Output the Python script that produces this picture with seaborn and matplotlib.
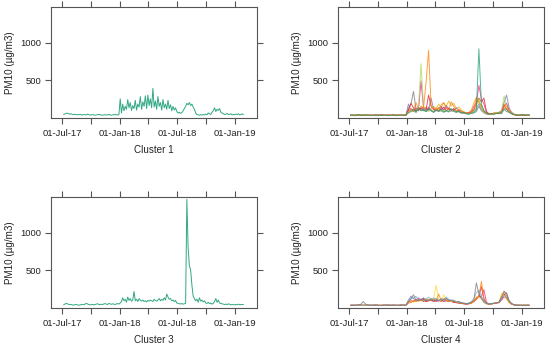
import numpy as np
import pandas as pd
import matplotlib
matplotlib.use("Agg")
import matplotlib.pyplot as plt
import matplotlib.dates as mdates
import seaborn as sns

# ---------------- data ----------------
start_fine = "2017-07-05"   # 4-day sampling for clusters 1 and 3
start_coarse = "2017-07-05" # 8-day sampling for clusters 2 and 4

cluster1 = [40,48,55,58,52,45,50,42,38,44,40,35,38,42,36,33,40,38,35,45,38,32,36,40,35,30,34,38,42,36,33,30,35,38,32,36,40,34,30,38,35,42,36,33,40,
            250,60,180,90,150,110,240,130,200,95,160,120,230,100,180,140,280,110,210,150,290,120,300,160,250,130,390,140,220,110,280,150,200,100,240,130,180,110,230,120,170,90,150,100,130,
            80,60,70,55,65,90,120,
            150,190,170,200,160,180,140,110,
            60,40,35,30,38,32,40,35,
            45,38,60,50,40,70,90,
            130,80,110,95,120,70,60,50,
            40,45,55,38,42,50,35,40,
            38,45,40,50,35,42,48,40]

cluster3 = [35,45,55,50,42,38,40,35,32,38,40,36,30,34,38,42,36,45,55,48,40,36,38,42,35,40,45,50,42,38,44,40,48,52,45,40,55,48,42,50,45,40,48,52,46,
            60,80,130,90,110,70,140,95,120,85,100,215,90,110,80,120,95,85,100,80,90,75,95,85,100,90,80,110,95,85,100,120,90,110,95,130,100,180,140,110,120,90,100,80,95,
            60,55,50,48,52,45,50,55,
            1450,800,560,500,300,150,120,
            90,110,70,130,85,100,75,90,
            60,55,70,50,60,45,55,
            80,120,70,100,60,55,50,45,
            40,45,38,50,42,35,40,38,
            35,40,38,45,36,40,42,38]

# cluster 2 sites
c2_site_a = [30,35,25,40,30,28,35,32,25,30,38,30,27,33,30,25,32,36,30,28,34,30,35,
             60,80,110,70,130,90,100,80,120,90,70,100,85,110,75,95,80,120,90,70,85,60,70,
             50,45,60,70,100,920,180,90,60,45,50,40,55,60,50,110,80,70,50,40,35,30,40,35,30,38]
c2_site_b = [25,30,35,28,32,40,30,26,30,35,28,32,30,26,34,30,28,32,35,30,27,33,38,
             70,90,100,60,150,720,140,90,80,110,70,95,130,80,100,90,75,110,85,95,70,80,60,
             55,50,65,80,150,250,120,70,50,40,45,55,70,60,90,290,130,80,60,45,35,40,32,38,30,35]
c2_site_c = [35,28,30,40,32,30,26,35,30,28,32,38,30,25,30,34,28,30,32,36,30,28,33,
             80,120,100,200,110,150,130,470,900,160,110,130,90,170,200,120,100,210,150,90,110,80,70,
             60,55,70,120,270,200,150,80,55,45,50,60,55,50,70,150,120,90,60,40,35,30,38,32,35,30]
c2_site_d = [30,32,28,35,30,40,32,28,30,26,34,30,28,32,30,35,28,30,26,32,30,35,30,
             90,110,80,130,100,490,120,90,140,100,80,110,90,130,100,140,110,90,120,80,100,70,60,
             55,60,80,150,200,430,250,180,70,50,45,55,60,50,80,160,110,70,55,40,35,32,30,35,30,28]
c2_site_e = [28,30,35,32,28,30,34,30,26,32,30,28,35,30,32,28,30,34,30,28,32,30,36,
             180,90,110,80,100,130,90,120,100,260,110,90,120,150,100,160,120,110,90,130,100,80,70,
             60,55,70,90,120,180,110,80,55,45,50,55,60,70,90,200,300,130,70,45,35,30,35,30,32,30]
c2_site_f = [25,28,30,26,30,32,28,25,30,28,26,30,32,28,30,26,28,30,25,28,30,26,30,
             70,90,80,100,120,90,110,140,100,120,150,110,180,130,200,150,220,160,190,120,140,100,80,
             60,70,100,200,260,220,160,90,60,45,50,60,55,70,90,180,150,100,60,40,30,28,32,30,28,30]
c2_site_g = [30,25,28,32,30,26,30,28,32,30,25,28,30,32,28,26,30,28,32,30,26,30,28,
             120,180,350,110,90,130,100,80,110,90,70,100,80,90,70,85,75,90,80,70,80,60,55,
             50,45,55,60,80,150,90,60,45,40,45,50,55,60,70,120,110,80,50,35,30,28,30,28,30,32]
c2_site_h = [35,30,28,32,36,30,28,34,30,32,28,30,34,30,28,32,30,35,28,30,32,30,34,
             100,190,130,90,120,110,140,100,300,150,110,90,130,100,140,90,120,100,110,90,80,70,65,
             55,60,75,100,180,260,210,260,80,50,45,55,60,55,75,150,190,90,55,40,32,30,35,32,30,28]

# cluster 4 sites
c4_site_p = [30,28,32,35,40,80,45,35,30,28,32,30,28,30,34,30,28,32,30,28,30,32,35,
             80,120,170,100,90,110,80,100,90,120,80,100,90,110,80,120,90,100,80,70,80,60,55,
             50,55,70,100,330,180,120,70,50,45,50,55,60,70,150,220,180,90,50,35,30,28,32,30,28,30]
c4_site_q = [28,32,30,26,30,35,32,28,30,34,30,28,26,30,32,28,30,34,28,30,32,28,30,
             90,110,130,150,100,120,90,110,140,100,130,110,90,120,100,140,110,90,100,80,70,65,60,
             55,60,80,120,200,230,150,90,60,50,55,60,65,70,110,160,140,90,55,40,32,30,28,32,30,28]
c4_site_r = [32,30,28,34,30,28,32,30,28,30,32,28,30,34,30,28,32,30,28,30,34,30,28,
             70,90,80,110,90,100,80,120,90,100,110,90,180,100,120,90,80,100,90,70,80,60,55,
             50,55,65,80,120,150,350,100,55,45,50,55,60,65,130,210,160,80,50,35,30,32,28,30,32,30]
c4_site_s = [28,30,32,28,30,26,30,32,28,30,26,28,32,30,28,26,30,32,28,30,26,30,32,
             60,80,70,90,80,100,90,110,100,120,110,300,110,90,170,100,90,80,90,70,65,60,55,
             50,55,60,90,150,130,110,70,50,45,50,55,60,70,190,150,110,70,45,35,30,28,30,45,30,28]
c4_site_t = [30,28,26,30,32,28,30,26,28,30,32,28,26,30,28,32,30,26,28,30,32,28,30,
             60,70,90,80,100,90,120,80,90,100,80,90,100,80,110,90,80,90,70,65,60,55,50,
             45,50,60,80,110,150,280,120,60,45,50,55,60,70,110,180,130,70,45,35,30,28,30,28,30,32]
c4_site_u = [28,30,34,30,28,32,30,28,34,30,28,32,30,28,30,34,28,30,32,28,30,34,30,
             100,150,120,90,110,100,130,90,110,100,90,120,100,90,110,120,100,90,80,70,65,60,55,
             50,55,60,80,120,160,130,90,55,45,50,55,65,70,120,170,200,90,50,35,32,30,28,30,32,28]
c4_site_v = [30,32,28,30,34,30,28,32,30,28,34,30,28,32,30,28,30,34,30,28,32,30,28,
             70,90,80,100,130,90,110,80,100,90,110,80,90,100,80,90,100,80,70,65,60,55,50,
             45,50,60,90,130,140,150,240,70,50,45,55,60,65,100,140,120,70,45,35,30,32,28,30,28,30]

tick_dates = ["2017-07-01", "2017-10-01", "2018-01-01", "2018-04-01",
              "2018-07-01", "2018-10-01", "2019-01-01"]
tick_labels = ["01-Jul-17", "", "01-Jan-18", "", "01-Jul-18", "", "01-Jan-19"]
y_ticks = [500, 1000]
panel_titles = ["Cluster 1", "Cluster 2", "Cluster 3", "Cluster 4"]
y_label = "PM10 (µg/m3)"

# ---------------- style ----------------
sns.set_theme(style="white")
plt.rcParams["font.family"] = ["Liberation Sans", "DejaVu Sans"]
TXT = "#222222"
FRAME = "#555555"
FS = 6.8

fig = plt.figure(figsize=(5.5, 3.46), dpi=100)
W, H = 550.0, 346.0

def make_ax(left, top, width=206, height=110.5):
    return fig.add_axes([left / W, 1 - (top + height) / H, width / W, height / H])

axes = [make_ax(51, 7), make_ax(338, 7), make_ax(51, 197), make_ax(338, 197)]

dates_fine = pd.date_range(start_fine, periods=len(cluster1), freq="4D")
dates_coarse = pd.date_range(start_coarse, periods=len(c2_site_a), freq="8D")

green = "#1B9E77"
# panel 1
sns.lineplot(x=dates_fine, y=cluster1, ax=axes[0], color=green, linewidth=0.7, alpha=0.9)
# panel 3
sns.lineplot(x=dates_fine, y=cluster3, ax=axes[2], color=green, linewidth=0.7, alpha=0.9)

def long_df(sites):
    frames = []
    for name, vals in sites.items():
        frames.append(pd.DataFrame({"date": dates_coarse, "pm10": vals, "site": name}))
    return pd.concat(frames, ignore_index=True)

c2 = long_df({"a": c2_site_a, "b": c2_site_b, "c": c2_site_c, "d": c2_site_d,
              "e": c2_site_e, "f": c2_site_f, "g": c2_site_g, "h": c2_site_h})
c2_pal = {"a": "#1B9E77", "b": "#A6D854", "c": "#FF7F00", "d": "#E7298A",
          "e": "#7570B3", "f": "#E6AB02", "g": "#777777", "h": "#E41A1C"}
c2_order = ["f", "e", "g", "h", "d", "b", "c", "a"]
sns.lineplot(data=c2, x="date", y="pm10", hue="site", hue_order=c2_order, palette=c2_pal,
             ax=axes[1], linewidth=0.7, alpha=0.75, legend=False, errorbar=None)

c4 = long_df({"p": c4_site_p, "q": c4_site_q, "r": c4_site_r, "s": c4_site_s,
              "t": c4_site_t, "u": c4_site_u, "v": c4_site_v})
c4_pal = {"p": "#777777", "q": "#6BAED6", "r": "#FF7F00", "s": "#FFD92F",
          "t": "#E41A1C", "u": "#7570B3", "v": "#E7298A"}
c4_order = ["u", "v", "t", "s", "r", "q", "p"]
sns.lineplot(data=c4, x="date", y="pm10", hue="site", hue_order=c4_order, palette=c4_pal,
             ax=axes[3], linewidth=0.7, alpha=0.75, legend=False, errorbar=None)

xlim = (mdates.date2num(pd.Timestamp("2017-05-26")), mdates.date2num(pd.Timestamp("2019-03-12")))
tick_pos = [mdates.date2num(pd.Timestamp(d)) for d in tick_dates]

for ax, title in zip(axes, panel_titles):
    ax.set_xlim(*xlim)
    ax.set_ylim(0, 1480)
    ax.set_xticks(tick_pos)
    ax.set_xticklabels(tick_labels)
    ax.set_yticks(y_ticks)
    ax.set_yticklabels([str(v) for v in y_ticks])
    ax.tick_params(axis="both", which="major", direction="out", length=4, width=0.8,
                   color=FRAME, labelsize=FS, labelcolor=TXT, pad=3,
                   top=True, right=True, bottom=True, left=True,
                   labeltop=False, labelright=False)
    ax.tick_params(axis="x", pad=4)
    for sp in ax.spines.values():
        sp.set_visible(True)
        sp.set_color(FRAME)
        sp.set_linewidth(0.8)
    ax.set_xlabel(title, fontsize=FS + 0.3, color=TXT)
    ax.set_ylabel(y_label, fontsize=FS + 0.3, color=TXT)
    ax.xaxis.set_label_coords(0.5, -0.245)
    ax.yaxis.set_label_coords(-36 / 206, 0.5)
    ax.grid(False)
    ax.set_facecolor("white")

fig.savefig("out.png", dpi=100, facecolor="white")
